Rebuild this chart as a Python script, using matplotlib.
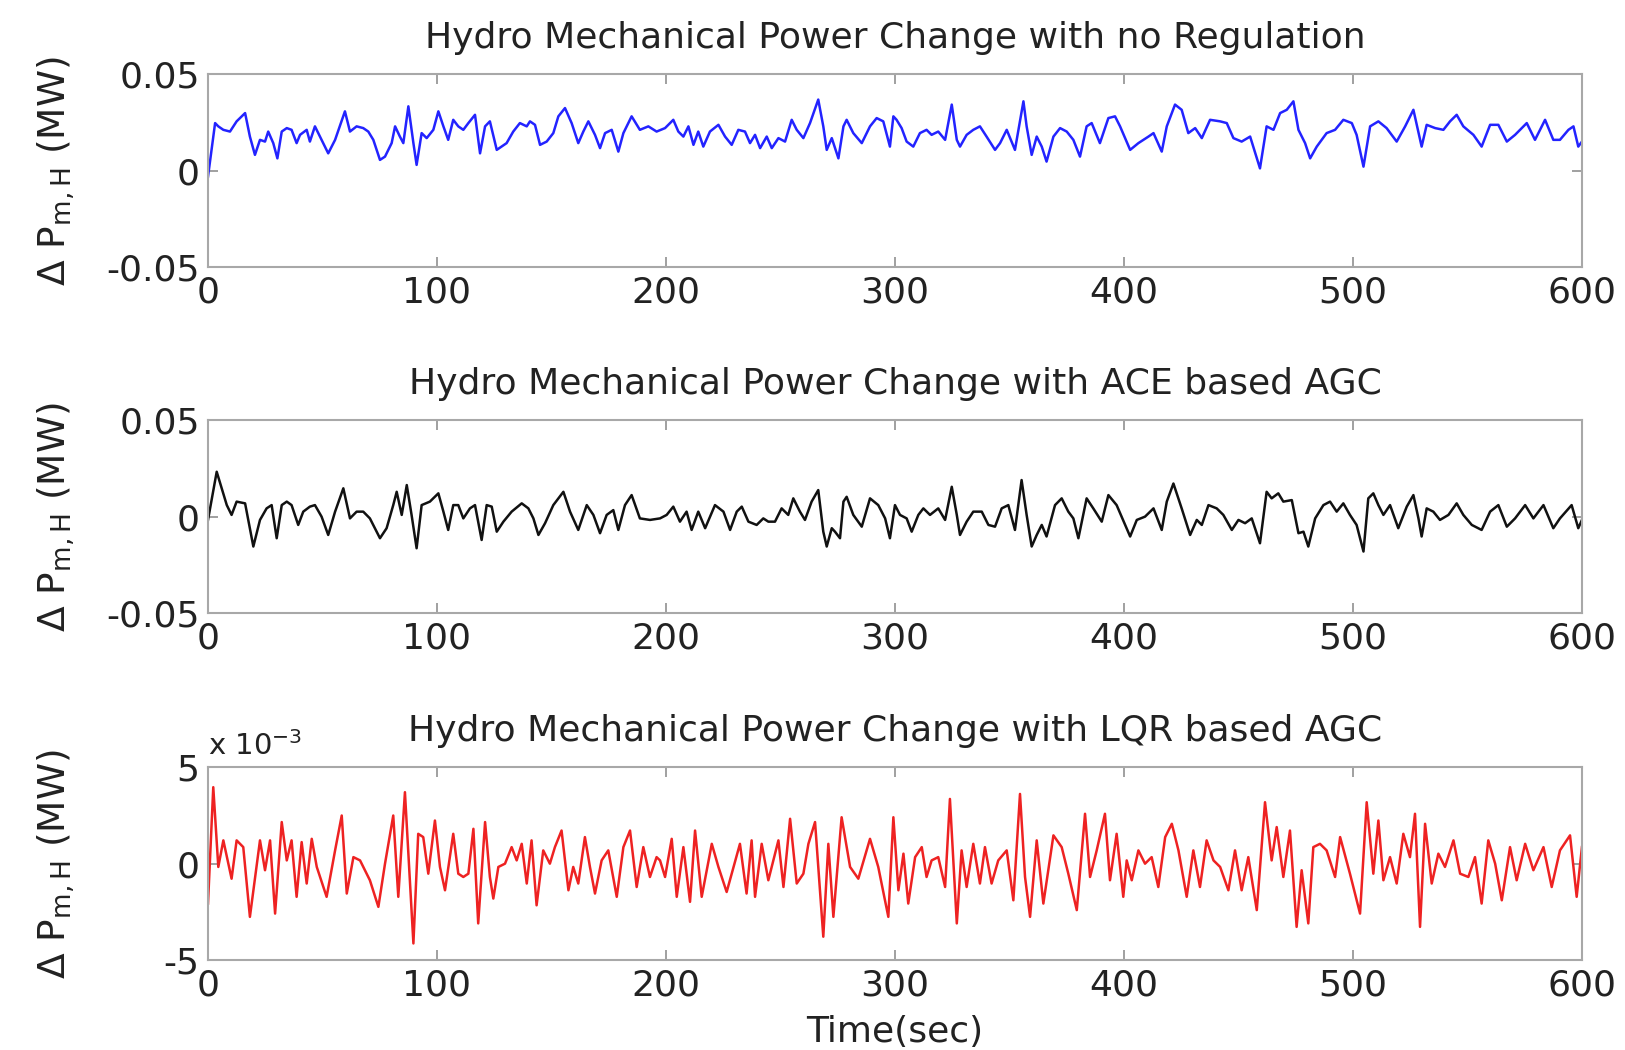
import matplotlib
matplotlib.use("Agg")
from matplotlib import pyplot as plt

plt.rcParams["font.family"] = "DejaVu Sans"
plt.rcParams["mathtext.fontset"] = "dejavusans"

# hydro mechanical power change, no regulation (MW)
t_noreg = [0, 3.1, 4.5, 6.7, 9.6, 12.5, 16.2, 18.3, 20.5, 22.7, 24.9, 26.3, 28.5, 30.3, 32.2, 34.4, 36.5,
           38.7, 40.2, 43.1, 44.5, 46.7, 48.9, 52.5, 55.5, 59.8, 62.0, 64.9, 67.8, 70.0, 72.2, 75.1, 77.3,
           80.2, 81.7, 83.8, 85.3, 87.5, 89.7, 91.1, 93.3, 95.5, 98.4, 100.6, 102.8, 104.9, 107.1, 109.3,
           111.5, 113.7, 116.6, 118.8, 121.0, 123.1, 126.1, 128.2, 130.4, 133.3, 136.2, 139.2, 140.6, 142.8,
           145.0, 147.9, 150.8, 153.0, 155.9, 158.8, 161.7, 163.9, 166.1, 169.0, 171.2, 173.4, 176.3, 179.2,
           181.4, 185.0, 188.6, 192.3, 195.9, 199.6, 203.2, 205.4, 207.6, 209.8, 212.0, 214.1, 216.3, 219.2,
           222.9, 225.8, 228.7, 231.6, 234.5, 236.7, 238.9, 241.1, 244.0, 246.2, 249.1, 252.0, 254.9, 257.1,
           260.0, 262.9, 266.5, 268.7, 270.2, 272.4, 275.3, 277.5, 278.9, 281.8, 285.5, 289.1, 292.0, 294.9,
           297.8, 299.3, 300.7, 302.9, 305.1, 308.0, 310.9, 313.8, 316.0, 318.9, 321.9, 324.8, 327.0, 328.4,
           331.3, 334.2, 337.1, 340.0, 343.7, 345.9, 348.8, 352.4, 356.1, 357.5, 359.7, 361.9, 364.1, 366.2,
           369.2, 372.1, 375.0, 377.9, 380.8, 383.7, 385.9, 389.5, 393.2, 396.1, 398.3, 402.7, 406.3, 410.7,
           412.9, 416.5, 418.7, 422.3, 425.2, 428.1, 431.1, 434.0, 437.6, 442.0, 444.9, 447.8, 451.4, 455.1,
           459.4, 462.3, 465.3, 468.2, 471.1, 474.0, 476.2, 479.1, 481.3, 484.2, 488.5, 492.2, 495.8, 499.5,
           501.6, 504.6, 507.5, 511.1, 514.7, 519.1, 522.8, 526.4, 530.0, 532.2, 535.9, 539.5, 542.4, 545.3,
           548.2, 552.6, 556.2, 559.9, 563.5, 567.2, 570.8, 575.9, 579.5, 583.9, 587.5, 590.4, 594.1, 596.3,
           598.4, 600]
p_noreg = [-0.0031, 0.0247, 0.0230, 0.0212, 0.0203, 0.0256, 0.0299, 0.0177, 0.0082, 0.0160, 0.0151, 0.0203,
           0.0143, 0.0064, 0.0203, 0.0221, 0.0212, 0.0143, 0.0186, 0.0212, 0.0151, 0.0230, 0.0177, 0.0090,
           0.0160, 0.0308, 0.0203, 0.0230, 0.0221, 0.0203, 0.0160, 0.0056, 0.0073, 0.0143, 0.0230, 0.0177,
           0.0143, 0.0334, 0.0143, 0.0030, 0.0195, 0.0169, 0.0212, 0.0308, 0.0230, 0.0160, 0.0264, 0.0230,
           0.0212, 0.0247, 0.0290, 0.0090, 0.0230, 0.0256, 0.0108, 0.0125, 0.0143, 0.0203, 0.0247, 0.0230,
           0.0256, 0.0238, 0.0134, 0.0151, 0.0195, 0.0282, 0.0325, 0.0247, 0.0143, 0.0203, 0.0256, 0.0186,
           0.0117, 0.0195, 0.0212, 0.0099, 0.0195, 0.0282, 0.0212, 0.0230, 0.0203, 0.0221, 0.0264, 0.0203,
           0.0177, 0.0230, 0.0134, 0.0203, 0.0125, 0.0203, 0.0238, 0.0177, 0.0134, 0.0212, 0.0203, 0.0143,
           0.0186, 0.0117, 0.0177, 0.0117, 0.0169, 0.0151, 0.0264, 0.0212, 0.0169, 0.0247, 0.0369, 0.0230,
           0.0108, 0.0169, 0.0064, 0.0230, 0.0264, 0.0195, 0.0143, 0.0230, 0.0273, 0.0256, 0.0125, 0.0282,
           0.0264, 0.0221, 0.0151, 0.0125, 0.0195, 0.0212, 0.0186, 0.0203, 0.0160, 0.0343, 0.0160, 0.0125,
           0.0186, 0.0212, 0.0230, 0.0177, 0.0108, 0.0143, 0.0212, 0.0108, 0.0360, 0.0230, 0.0082, 0.0177,
           0.0125, 0.0047, 0.0177, 0.0221, 0.0203, 0.0160, 0.0073, 0.0230, 0.0247, 0.0143, 0.0273, 0.0282,
           0.0230, 0.0108, 0.0143, 0.0177, 0.0195, 0.0099, 0.0230, 0.0343, 0.0316, 0.0195, 0.0221, 0.0169,
           0.0264, 0.0256, 0.0247, 0.0169, 0.0151, 0.0177, 0.0012, 0.0230, 0.0212, 0.0299, 0.0316, 0.0360,
           0.0212, 0.0143, 0.0064, 0.0125, 0.0195, 0.0212, 0.0264, 0.0247, 0.0186, 0.0021, 0.0230, 0.0256,
           0.0221, 0.0151, 0.0230, 0.0316, 0.0125, 0.0238, 0.0221, 0.0212, 0.0256, 0.0290, 0.0230, 0.0186,
           0.0125, 0.0238, 0.0238, 0.0151, 0.0186, 0.0247, 0.0160, 0.0264, 0.0160, 0.0160, 0.0212, 0.0230,
           0.0125, 0.0151]

# ACE based AGC (MW)
t_ace = [0, 3.8, 6.0, 8.2, 10.3, 12.5, 16.2, 19.8, 22.7, 25.6, 27.8, 30.0, 32.2, 34.4, 36.5, 39.4, 41.6,
         44.5, 46.7, 49.6, 52.5, 55.5, 59.1, 62.0, 64.9, 67.8, 70.7, 75.1, 78.0, 80.9, 82.4, 84.6, 86.8,
         88.9, 91.1, 93.3, 96.9, 100.6, 102.8, 104.9, 107.1, 109.3, 111.5, 114.4, 116.6, 119.5, 121.7,
         123.9, 126.1, 129.0, 132.6, 137.0, 139.9, 142.1, 144.3, 147.2, 150.8, 155.2, 158.1, 161.7, 165.4,
         168.3, 171.2, 174.1, 177.0, 179.2, 182.1, 185.0, 188.6, 193.0, 197.4, 200.3, 203.2, 206.1, 209.0,
         211.2, 214.1, 217.1, 221.4, 225.1, 228.0, 230.9, 233.1, 236.0, 239.6, 242.5, 244.7, 247.6, 250.5,
         253.4, 255.6, 258.5, 260.7, 263.6, 266.5, 268.7, 270.2, 272.4, 273.8, 276.0, 277.5, 278.9, 281.8,
         285.5, 289.1, 292.7, 295.7, 297.8, 300.0, 302.2, 305.1, 307.3, 310.2, 312.4, 315.3, 318.9, 321.9,
         324.8, 327.0, 328.4, 331.3, 334.2, 337.9, 340.8, 343.7, 346.6, 349.5, 352.4, 355.3, 357.5, 359.7,
         361.9, 364.1, 366.2, 369.9, 372.8, 375.7, 377.9, 380.1, 383.7, 386.6, 390.3, 393.2, 396.8, 402.7,
         405.6, 409.2, 412.9, 416.5, 418.7, 421.6, 425.2, 428.9, 431.8, 434.0, 436.9, 440.5, 443.4, 447.1,
         450.0, 452.9, 455.8, 459.4, 462.3, 464.5, 467.4, 469.6, 473.3, 476.2, 478.4, 480.5, 483.5, 487.1,
         490.0, 492.9, 495.8, 498.7, 501.6, 504.6, 506.7, 508.9, 511.1, 513.3, 516.2, 519.8, 523.5, 526.4,
         528.6, 530.0, 532.2, 535.1, 538.0, 541.7, 545.3, 548.2, 551.9, 556.2, 559.9, 563.5, 567.2, 570.8,
         575.2, 578.8, 583.2, 587.5, 590.4, 595.5, 598.4, 600]
p_ace = [-0.0017, 0.0233, 0.0147, 0.0060, 0.0009, 0.0078, 0.0069, -0.0155, -0.0017, 0.0043, 0.0060, -0.0112,
         0.0060, 0.0078, 0.0060, -0.0043, 0.0026, 0.0052, 0.0060, 0.0000, -0.0095, 0.0026, 0.0147, -0.0009,
         0.0026, 0.0026, -0.0009, -0.0112, -0.0060, 0.0060, 0.0129, 0.0009, 0.0164, 0.0009, -0.0164, 0.0060,
         0.0078, 0.0121, 0.0026, -0.0069, 0.0060, 0.0060, -0.0009, 0.0043, 0.0060, -0.0121, 0.0060, 0.0052,
         -0.0078, -0.0026, 0.0026, 0.0069, 0.0043, -0.0009, -0.0095, -0.0034, 0.0060, 0.0129, 0.0026, -0.0069,
         0.0060, 0.0009, -0.0086, 0.0009, 0.0034, -0.0069, 0.0060, 0.0112, -0.0009, -0.0017, -0.0009, 0.0009,
         0.0052, -0.0026, 0.0026, -0.0069, 0.0026, -0.0060, 0.0060, 0.0026, -0.0069, 0.0026, 0.0052, -0.0026,
         -0.0043, -0.0009, -0.0026, -0.0026, 0.0043, 0.0009, 0.0095, 0.0026, -0.0017, 0.0078, 0.0138, -0.0078,
         -0.0155, -0.0060, -0.0078, -0.0112, 0.0078, 0.0103, 0.0009, -0.0052, 0.0095, 0.0060, -0.0009, -0.0112,
         0.0060, 0.0009, -0.0009, -0.0078, 0.0009, 0.0043, 0.0009, 0.0043, -0.0017, 0.0155, 0.0009, -0.0095,
         -0.0026, 0.0026, 0.0026, -0.0043, -0.0052, 0.0043, 0.0060, -0.0069, 0.0190, 0.0009, -0.0155, -0.0095,
         -0.0043, -0.0103, 0.0060, 0.0095, 0.0026, -0.0009, -0.0112, 0.0095, 0.0043, -0.0026, 0.0112, 0.0060,
         -0.0103, -0.0017, 0.0000, 0.0043, -0.0069, 0.0078, 0.0172, 0.0043, -0.0095, -0.0017, -0.0043, 0.0060,
         0.0043, 0.0009, -0.0069, -0.0017, -0.0034, -0.0009, -0.0138, 0.0129, 0.0095, 0.0121, 0.0078, 0.0086,
         -0.0086, -0.0078, -0.0155, -0.0009, 0.0060, 0.0078, 0.0026, 0.0069, 0.0009, -0.0043, -0.0181, 0.0095,
         0.0121, 0.0060, 0.0009, 0.0060, -0.0060, 0.0052, 0.0112, -0.0009, -0.0103, 0.0043, 0.0026, -0.0017,
         0.0009, 0.0069, 0.0009, -0.0043, -0.0069, 0.0026, 0.0060, -0.0052, -0.0009, 0.0060, -0.0009, 0.0060,
         -0.0060, -0.0009, 0.0060, -0.0060, -0.0017]

# LQR based AGC (x 10^-3 MW)
t_lqr = [0, 2.3, 4.5, 6.7, 10.3, 12.5, 15.4, 18.3, 22.7, 24.9, 27.1, 29.3, 32.2, 34.4, 36.5, 38.7, 40.9,
         43.1, 45.3, 47.5, 51.8, 55.5, 58.4, 60.6, 63.5, 66.4, 70.7, 74.4, 77.3, 80.9, 83.1, 86.0, 89.7,
         91.8, 94.0, 96.2, 99.1, 101.3, 103.5, 107.1, 109.3, 111.5, 113.7, 115.9, 118.0, 121.0, 123.1,
         124.6, 126.8, 129.7, 132.6, 134.8, 137.0, 139.2, 141.3, 143.5, 146.4, 149.3, 151.5, 154.4, 157.4,
         159.5, 161.7, 164.6, 166.8, 169.0, 171.9, 174.8, 178.5, 181.4, 184.3, 187.2, 190.1, 193.0, 195.9,
         197.4, 199.6, 202.5, 204.7, 207.6, 210.5, 212.7, 215.6, 220.0, 222.9, 226.5, 232.3, 235.2, 237.4,
         238.9, 241.8, 244.7, 249.1, 251.3, 254.2, 257.1, 260.0, 262.2, 265.1, 266.5, 268.7, 270.9, 273.1,
         276.7, 280.4, 284.0, 289.1, 292.7, 297.1, 299.3, 301.5, 303.7, 305.8, 308.8, 311.7, 313.8, 316.0,
         318.9, 321.9, 324.0, 327.0, 329.1, 331.3, 334.2, 337.1, 339.3, 342.2, 345.1, 348.8, 351.7, 354.6,
         356.8, 359.0, 361.9, 364.8, 369.2, 372.8, 375.7, 379.4, 383.0, 385.2, 388.1, 391.7, 393.9, 396.8,
         399.7, 401.2, 403.4, 406.3, 409.2, 412.1, 415.0, 418.0, 420.9, 423.8, 427.4, 430.3, 433.2, 436.1,
         439.1, 442.0, 445.6, 448.5, 451.4, 454.3, 458.0, 461.6, 464.5, 466.7, 469.6, 472.5, 475.4, 477.6,
         480.5, 482.7, 485.6, 488.5, 492.2, 494.4, 498.7, 503.1, 506.0, 508.9, 511.1, 513.3, 516.2, 519.1,
         522.0, 524.9, 527.1, 529.3, 531.5, 534.4, 537.3, 540.2, 543.9, 546.8, 550.4, 553.3, 556.2, 559.1,
         562.1, 565.0, 568.6, 571.5, 575.2, 578.8, 583.2, 586.8, 590.4, 594.8, 597.7, 600]
p_lqr = [-2.07, 3.97, -0.17, 1.21, -0.78, 1.21, 0.86, -2.76, 1.21, -0.34, 1.21, -2.59, 2.16, 0.17, 1.21,
         -1.72, 1.12, -1.03, 1.29, -0.17, -1.72, 0.69, 2.50, -1.55, 0.34, 0.17, -0.86, -2.24, 0.00, 2.50,
         -1.72, 3.71, -4.14, 1.55, 1.38, -0.52, 2.24, -0.17, -1.38, 1.55, -0.52, -0.69, -0.52, 1.81, -3.10,
         2.16, -0.69, -1.81, -0.17, 0.00, 0.86, 0.17, 1.03, -1.03, 1.21, -2.16, 0.69, 0.00, 0.86, 1.72,
         -1.38, -0.17, -1.03, 1.38, -0.17, -1.55, 0.17, 0.69, -1.72, 0.86, 1.72, -1.21, 0.86, -0.69, 0.34,
         0.17, -0.69, 1.29, -1.72, 0.86, -1.98, 1.72, -1.72, 1.03, -0.17, -1.47, 1.03, -1.55, 1.21, -1.72,
         1.03, -0.86, 1.21, -1.21, 2.33, -1.03, -0.52, 1.03, 2.16, -0.17, -3.79, 1.03, -2.76, 2.41, -0.17,
         -0.78, 1.29, -0.17, -2.76, 2.41, -1.38, 0.52, -2.07, 0.34, 0.86, -0.69, 0.17, 0.34, -1.21, 3.36,
         -3.10, 0.69, -1.21, 1.03, -1.03, 0.86, -1.03, 0.17, 0.69, -1.90, 3.62, -0.69, -2.76, 1.21, -2.07,
         1.47, 0.86, -0.52, -2.41, 2.59, -0.69, 0.69, 2.59, -0.86, 1.55, -1.72, 0.17, -0.86, 0.69, 0.00,
         0.34, -1.21, 1.38, 2.07, 0.69, -1.72, 0.69, -1.21, 1.21, 0.17, -0.17, -1.38, 0.69, -1.38, 0.34,
         -2.41, 3.19, 0.17, 1.90, -0.69, 1.72, -3.28, -0.34, -3.10, 0.86, 1.03, 0.69, -0.69, 1.38, -0.52,
         -2.59, 3.19, -0.52, 2.24, -0.86, 0.34, -1.03, 1.55, 0.34, 2.59, -3.28, 2.07, -1.03, 0.52, -0.17,
         1.21, -0.52, -0.69, 0.34, -2.07, 1.21, 0.00, -1.90, 0.86, -0.86, 1.03, -0.34, 0.86, -1.21, 0.69,
         1.47, -1.72, 0.86]

titles = ["Hydro Mechanical Power Change with no Regulation",
          "Hydro Mechanical Power Change with ACE based AGC",
          "Hydro Mechanical Power Change with LQR based AGC"]
series = [(t_noreg, p_noreg, "#2323ff"), (t_ace, p_ace, "#111111"), (t_lqr, p_lqr, "#ee2222")]
ylims = [(-0.05, 0.05), (-0.05, 0.05), (-5, 5)]
yticks = [[-0.05, 0, 0.05], [-0.05, 0, 0.05], [-5, 0, 5]]
yticklabels = [["-0.05", "0", "0.05"], ["-0.05", "0", "0.05"], ["-5", "0", "5"]]
xticks = [0, 100, 200, 300, 400, 500, 600]

fig = plt.figure(figsize=(16.25, 10.5), dpi=100)
bottoms = [0.7457, 0.4162, 0.0857]
for i in range(3):
    ax = fig.add_axes([0.128, bottoms[i], 0.8455, 0.1835])
    t, p, c = series[i]
    ax.plot(t, p, color=c, lw=1.8)
    ax.set_xlim(0, 600)
    ax.set_ylim(*ylims[i])
    ax.set_xticks(xticks)
    ax.set_xticklabels([str(x) for x in xticks])
    ax.set_yticks(yticks[i])
    ax.set_yticklabels(yticklabels[i])
    for s in ax.spines.values():
        s.set_color("#a8a8a8")
        s.set_linewidth(1.5)
    ax.tick_params(direction="in", top=True, right=True, length=7, width=1.2, color="#909090",
                   labelsize=26, labelcolor="#222222")
    ax.tick_params(axis="x", pad=6)
    ax.tick_params(axis="y", pad=6)
    ax.set_title(titles[i], fontsize=26, color="#222222", pad=19)
    ax.set_ylabel(r"$\Delta$ P$_{\mathrm{m,H}}$ (MW)", fontsize=27, color="#222222")
    ax.yaxis.set_label_coords(-0.095, 0.5)
    if i == 2:
        ax.text(0.0, 1.035, r"x 10$^{-3}$", transform=ax.transAxes, fontsize=21, color="#222222",
                ha="left", va="bottom")
        ax.set_xlabel("Time(sec)", fontsize=26, color="#222222", labelpad=9)

fig.savefig("out.png", dpi=100)
